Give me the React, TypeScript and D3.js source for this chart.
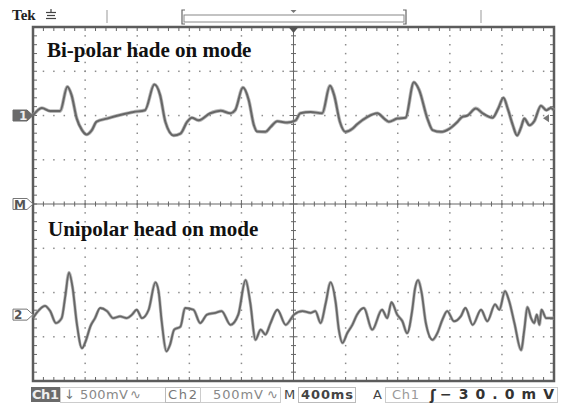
import React from "react";
import * as d3 from "d3";

// ---- data (time in ms, voltage in mV) ----
const ch1Time = [0, 68, 132, 208, 264, 296, 336, 376, 412, 452, 488, 568, 668, 772, 860, 932, 976, 1016, 1080, 1132, 1184, 1220, 1272, 1360, 1440, 1516, 1552, 1612, 1656, 1696, 1720, 1784, 1824, 1876, 1952, 2016, 2052, 2132, 2220, 2280, 2312, 2356, 2400, 2452, 2488, 2568, 2644, 2696, 2732, 2796, 2860, 2924, 2964, 3028, 3068, 3132, 3196, 3260, 3296, 3336, 3400, 3452, 3528, 3572, 3612, 3644, 3684, 3716, 3748, 3772, 3812, 3848, 3900, 3940, 3976, 4000];
const ch1Volts = [0, 85, 50, 50, 325, 230, -35, -165, -215, -165, -70, -35, 5, 40, 60, 350, 230, -70, -225, -205, -70, -25, -55, 25, 55, 25, 60, 315, 175, -110, -180, -185, -130, -65, -80, -55, 25, 40, 25, 335, 230, -70, -185, -150, -100, -15, 25, -35, -70, -35, -25, 375, 290, -35, -165, -185, -150, -70, -15, 0, 80, 25, -25, 80, 200, 80, -110, -225, -130, -35, -110, -65, 110, 60, 85, 60];

const ch2Time = [0, 28, 92, 132, 176, 220, 248, 276, 304, 336, 376, 408, 440, 476, 516, 568, 616, 668, 720, 760, 796, 836, 888, 940, 964, 988, 1024, 1052, 1084, 1132, 1168, 1232, 1284, 1336, 1400, 1448, 1516, 1576, 1632, 1668, 1708, 1748, 1784, 1824, 1876, 1940, 2004, 2068, 2132, 2168, 2208, 2248, 2284, 2324, 2348, 2376, 2412, 2452, 2488, 2540, 2604, 2680, 2720, 2752, 2796, 2836, 2872, 2912, 2932, 2956, 2984, 3016, 3068, 3104, 3144, 3180, 3232, 3284, 3320, 3376, 3440, 3488, 3548, 3580, 3624, 3656, 3696, 3748, 3772, 3796, 3824, 3848, 3868, 3888, 3904, 3940, 4000];
const ch2Volts = [-40, 20, 100, 40, -95, -40, 210, 475, 305, -95, -380, -285, -135, -40, 75, 40, -40, -20, -40, 0, 55, -40, 55, 365, 265, -75, -415, -340, -170, -135, 75, 55, -95, 0, 20, 40, -115, 0, 390, 135, -285, -170, -225, -95, 55, -115, 0, 40, 20, 40, -95, 135, 365, 135, -170, -320, -210, -115, 0, 75, -170, 55, -40, 140, 0, -75, -210, 55, 285, 390, 245, -95, -285, -210, -55, 40, -75, -20, 75, -115, 55, -75, 115, 55, 265, 150, -95, -400, -170, 85, -40, -95, 0, -115, 55, -40, -40];

const ch1Offset = 1000; // +2 div at 500 mV/div
const ch2Offset = -1250; // -2.5 div
const ch1Label = "Bi-polar hade on mode";
const ch2Label = "Unipolar head on mode";

const W = 561, H = 404;
const X0 = 33, X1 = 554, Y0 = 27, Y1 = 381;

export default function App() {
  const x = d3.scaleLinear().domain([0, 4000]).range([X0, X1]);
  const y = d3.scaleLinear().domain([-2000, 2000]).range([Y1, Y0]);

  const ch1 = ch1Time.map((t, i) => [t, ch1Volts[i]] as [number, number]);
  const ch2 = ch2Time.map((t, i) => [t, ch2Volts[i]] as [number, number]);
  const line1 = d3.line<[number, number]>().x(d => x(d[0])).y(d => y(d[1] + ch1Offset)).curve(d3.curveMonotoneX);
  const line2 = d3.line<[number, number]>().x(d => x(d[0])).y(d => y(d[1] + ch2Offset)).curve(d3.curveMonotoneX);

  const majorT = d3.range(400, 4000, 400).filter(t => t !== 2000);
  const majorV = d3.range(-1500, 2000, 500).filter(v => v !== 0);
  const minorT = d3.range(0, 4001, 80);
  const minorV = d3.range(-2000, 2001, 100);

  const dots: JSX.Element[] = [];
  majorT.forEach(t => minorV.forEach(v => dots.push(<rect key={`a${t}_${v}`} x={x(t) - 0.7} y={y(v) - 0.7} width={1.5} height={1.5} fill="#8c8c8c" />)));
  majorV.forEach(v => minorT.forEach(t => dots.push(<rect key={`b${t}_${v}`} x={x(t) - 0.7} y={y(v) - 0.7} width={1.5} height={1.5} fill="#8c8c8c" />)));

  const cx = x(2000), cy = y(0);
  const ticks: JSX.Element[] = [];
  minorT.forEach(t => {
    const major = t % 400 === 0;
    const L = major ? 4 : 2.5;
    ticks.push(<line key={`ct${t}`} x1={x(t)} x2={x(t)} y1={cy - L} y2={cy + L} stroke="#666" strokeWidth={1} />);
    ticks.push(<line key={`tt${t}`} x1={x(t)} x2={x(t)} y1={Y0} y2={Y0 + 4} stroke="#666" strokeWidth={1} />);
    ticks.push(<line key={`bt${t}`} x1={x(t)} x2={x(t)} y1={Y1} y2={Y1 - 4} stroke="#666" strokeWidth={1} />);
  });
  minorV.forEach(v => {
    const major = v % 500 === 0;
    const L = major ? 4 : 2.5;
    ticks.push(<line key={`cv${v}`} y1={y(v)} y2={y(v)} x1={cx - L} x2={cx + L} stroke="#666" strokeWidth={1} />);
    ticks.push(<line key={`lv${v}`} y1={y(v)} y2={y(v)} x1={X0} x2={X0 + 4} stroke="#666" strokeWidth={1} />);
    ticks.push(<line key={`rv${v}`} y1={y(v)} y2={y(v)} x1={X1} x2={X1 - 4} stroke="#666" strokeWidth={1} />);
  });

  const m1 = y(ch1Offset), mM = y(0), m2 = y(ch2Offset);
  const marker = (cyv: number, filled: boolean, label: string, key: string) => (
    <g key={key}>
      <path d={`M13,${cyv - 5.5}H27L33,${cyv}L27,${cyv + 5.5}H13Z`} fill={filled ? "#6a6a6a" : "#fff"} stroke={filled ? "#6a6a6a" : "#777"} strokeWidth={1} />
      <text x={filled ? 19 : 14} y={cyv + 4.5} fontFamily="DejaVu Sans" fontWeight="bold" fontSize={12} fill={filled ? "#eee" : "#555"}>{label}</text>
    </g>
  );

  const sf = "DejaVu Sans";
  const d1 = line1(ch1) || "";
  const d2 = line2(ch2) || "";
  return (
    <svg width={W} height={H} style={{ position: "absolute", left: 0, top: 0, background: "#fff" }}>
      <rect width={W} height={H} fill="#fff" />
      {/* header */}
      <text x={12} y={20} fontFamily="Liberation Serif" fontWeight="bold" fontSize={15} fill="#222">Tek</text>
      <g stroke="#444" strokeWidth={1.2}>
        <line x1={51} x2={51} y1={9} y2={12} />
        <line x1={46} x2={56} y1={12.5} y2={12.5} />
        <line x1={47} x2={55} y1={15.5} y2={15.5} />
        <line x1={46} x2={56} y1={18.5} y2={18.5} />
      </g>
      <line x1={107} x2={107} y1={10} y2={23} stroke="#999" strokeWidth={1} />
      <line x1={481} x2={481} y1={10} y2={23} stroke="#999" strokeWidth={1} />
      <rect x={184} y={15} width={220} height={7} fill="#fff" stroke="#888" strokeWidth={1} />
      <path d="M185,10H182V24H185" fill="none" stroke="#666" strokeWidth={1.2} />
      <path d="M403,10H406V24H403" fill="none" stroke="#666" strokeWidth={1.2} />
      <path d={`M${cx - 3},10H${cx + 3}L${cx},13Z`} fill="#777" />

      {/* graticule */}
      {dots}
      <line x1={cx} x2={cx} y1={Y0} y2={Y1} stroke="#666" strokeWidth={1} />
      <line x1={X0} x2={X1} y1={cy} y2={cy} stroke="#666" strokeWidth={1} />
      {ticks}
      <rect x={X0} y={Y0} width={X1 - X0} height={Y1 - Y0} fill="none" stroke="#5c5c5c" strokeWidth={2.5} />
      <path d={`M${cx - 5},${Y0}H${cx + 5}L${cx},${Y0 + 6}Z`} fill="#555" />

      {/* labels */}
      <text x={47} y={57} fontFamily="Liberation Serif" fontWeight="bold" fontSize={21} fill="#111">{ch1Label}</text>
      <text x={48} y={236} fontFamily="Liberation Serif" fontWeight="bold" fontSize={21} fill="#111">{ch2Label}</text>

      {/* traces */}
      <path d={d1} fill="none" stroke="#9a9a9a" strokeWidth={3.6} strokeLinejoin="round" opacity={0.7} />
      <path d={d1} fill="none" stroke="#666" strokeWidth={2} strokeLinejoin="round" />
      <path d={d2} fill="none" stroke="#9a9a9a" strokeWidth={3.2} strokeLinejoin="round" opacity={0.7} />
      <path d={d2} fill="none" stroke="#666" strokeWidth={1.8} strokeLinejoin="round" />

      {/* markers */}
      {marker(m1, true, "1", "m1")}
      {marker(mM, false, "M", "mM")}
      {marker(m2, false, "2", "m2")}
      <path d={`M543,${y(ch1Offset - 30)}L549,${y(ch1Offset - 30) - 4}V${y(ch1Offset - 30) + 4}Z`} fill="#777" />

      {/* status bar */}
      <rect x={31} y={387} width={29} height={15} fill="#6a6a6a" />
      <text x={32} y={399} fontFamily={sf} fontWeight="bold" fontSize={13} fill="#eee" textLength={27}>Ch1</text>
      <rect x={60.5} y={387.5} width={105} height={15} fill="none" stroke="#ccc" />
      <text x={64} y={399} fontFamily={sf} fontSize={13} fill="#777">↓</text>
      <text x={80} y={399} fontFamily={sf} fontSize={13} fill="#888" textLength={48}>500mV</text>
      <text x={130} y={399} fontFamily={sf} fontSize={13} fill="#888">∿</text>
      <rect x={165.5} y={387.5} width={35} height={15} fill="none" stroke="#bbb" />
      <text x={168} y={399} fontFamily={sf} fontSize={13} fill="#777" textLength={29}>Ch2</text>
      <rect x={200.5} y={387.5} width={80} height={15} fill="none" stroke="#ccc" />
      <text x={213} y={399} fontFamily={sf} fontSize={13} fill="#888" textLength={50}>500mV</text>
      <text x={267} y={399} fontFamily={sf} fontSize={13} fill="#888">∿</text>
      <text x={284} y={399} fontFamily={sf} fontSize={13} fill="#444">M</text>
      <rect x={298.5} y={387.5} width={57} height={15} fill="none" stroke="#bbb" />
      <text x={301} y={399} fontFamily={sf} fontWeight="bold" fontSize={13} fill="#444" textLength={52}>400ms</text>
      <text x={373} y={399} fontFamily={sf} fontSize={13} fill="#444">A</text>
      <rect x={385.5} y={387.5} width={172} height={15} fill="none" stroke="#ccc" />
      <text x={392} y={399} fontFamily={sf} fontSize={13} fill="#999" textLength={27}>Ch1</text>
      <text x={430} y={400} fontFamily={sf} fontWeight="bold" fontSize={14} fill="#333">ʃ</text>
      <text x={440} y={399} fontFamily={sf} fontWeight="bold" fontSize={14} fill="#333" textLength={114}>−30.0mV</text>
    </svg>
  );
}
